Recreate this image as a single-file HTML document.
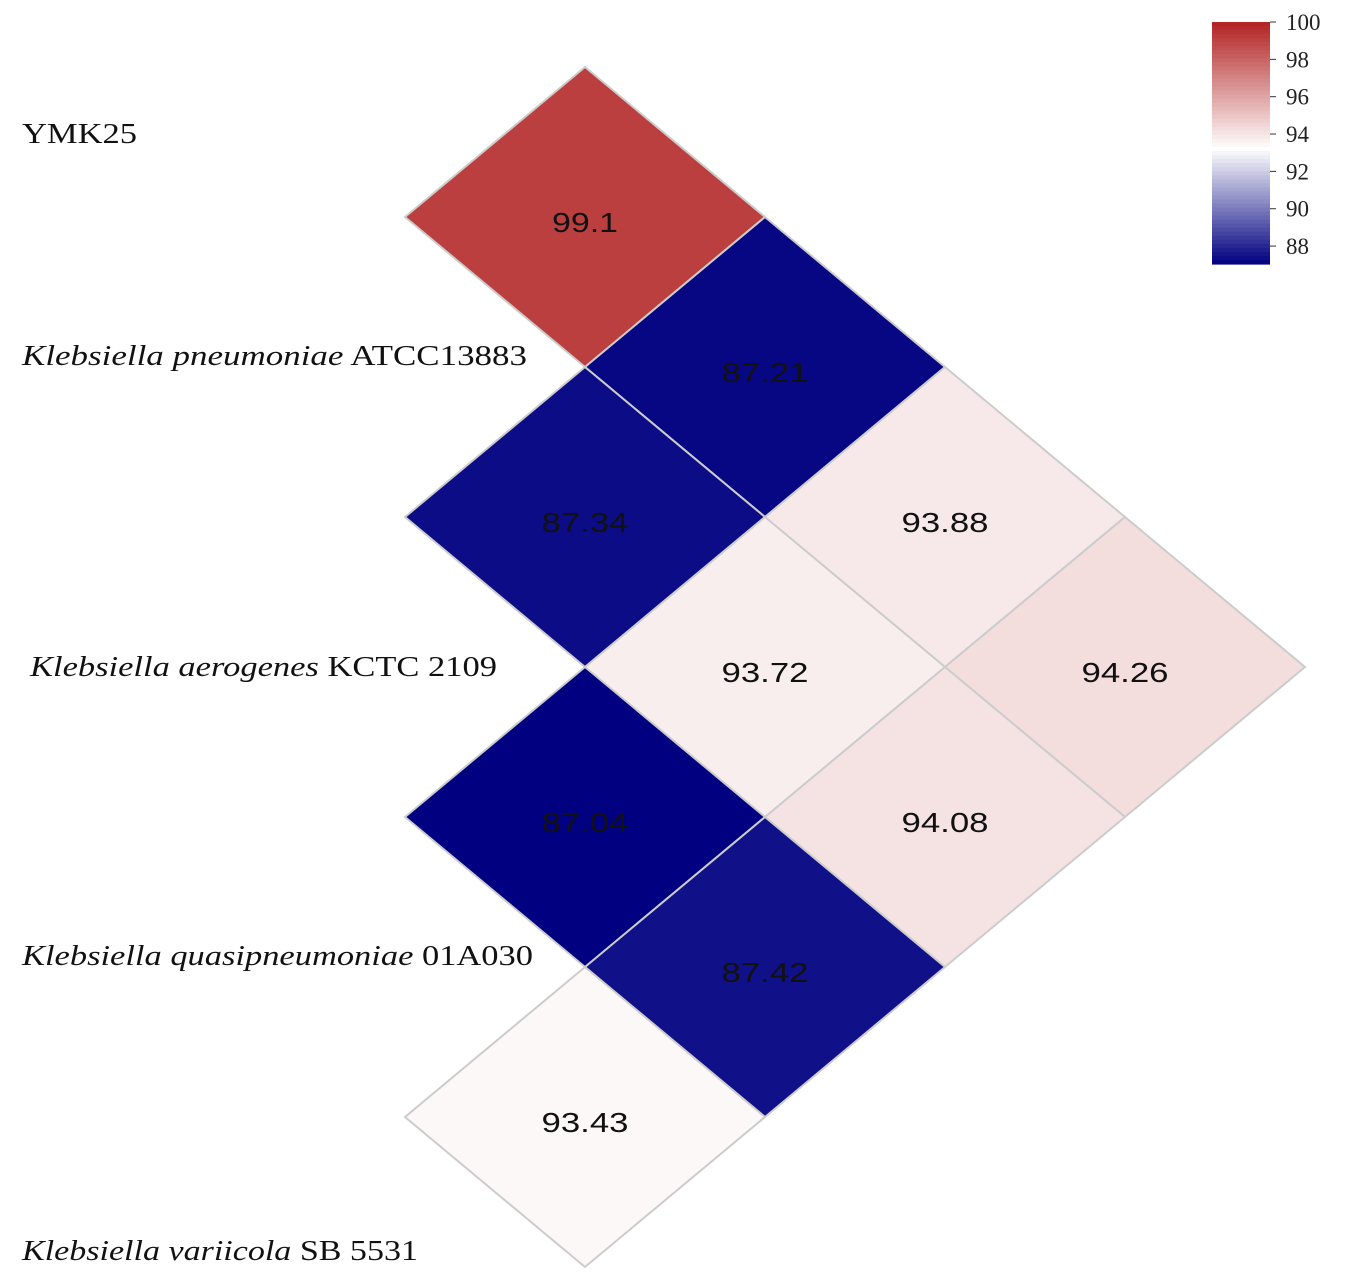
<!DOCTYPE html>
<html><head><meta charset="utf-8">
<style>
html,body{margin:0;padding:0;background:#fff;}
svg{display:block;}
.lab{font-family:"Liberation Serif",serif;font-size:29px;fill:#111;}
.val{font-family:"Liberation Sans",sans-serif;font-size:28px;fill:#111;}
.tick{font-family:"Liberation Serif",serif;font-size:23px;fill:#222;}
</style></head>
<body>
<svg id="chart" width="1348" height="1284" viewBox="0 0 1348 1284" xmlns="http://www.w3.org/2000/svg">
<g id="labels">
<text class="lab" x="22" y="143" textLength="115" lengthAdjust="spacingAndGlyphs">YMK25</text>
<text class="lab" x="22" y="365" textLength="505" lengthAdjust="spacingAndGlyphs"><tspan font-style="italic">Klebsiella pneumoniae</tspan> ATCC13883</text>
<text class="lab" x="30" y="676" textLength="467" lengthAdjust="spacingAndGlyphs"><tspan font-style="italic">Klebsiella aerogenes</tspan> KCTC 2109</text>
<text class="lab" x="22" y="965" textLength="511" lengthAdjust="spacingAndGlyphs"><tspan font-style="italic">Klebsiella quasipneumoniae</tspan> 01A030</text>
<text class="lab" x="22" y="1260" textLength="396" lengthAdjust="spacingAndGlyphs"><tspan font-style="italic">Klebsiella variicola</tspan> SB 5531</text>
</g>
<g id="cells"></g>
<g id="legend"></g>
</svg>
<script>
const pairI = [0,0,1,0,1,0,2,1,2,3];
const pairJ = [1,2,2,3,3,4,3,4,4,4];
const values = [99.1,87.21,87.34,93.88,93.72,94.26,87.04,94.08,87.42,93.43];
const legendTicks = [88,90,92,94,96,98,100];

const NS="http://www.w3.org/2000/svg";
const x0=405, y0=67, hw=180, hh=150;
function cx(i,j){return x0+hw*(j-i);}
function cy(i,j){return y0+hh*(i+j);}
const vmin=87.04, vmid=93.2, vmax=100;
function lerp(a,b,t){return Math.round(a+(b-a)*t);}
function color(v){
  const lo=[0,0,128], mid=[255,255,255], hi=[178,34,34];
  let c;
  if(v<=vmid){const t=(v-vmin)/(vmid-vmin);c=[0,1,2].map(k=>lerp(lo[k],mid[k],Math.max(0,t)));}
  else{const t=(v-vmid)/(vmax-vmid);c=[0,1,2].map(k=>lerp(mid[k],hi[k],Math.min(1,t)));}
  return `rgb(${c[0]},${c[1]},${c[2]})`;
}
const g=document.getElementById('cells');
values.forEach((v,k)=>{
  const i=pairI[k], j=pairJ[k], x=cx(i,j), y=cy(i,j);
  const p=document.createElementNS(NS,'polygon');
  p.setAttribute('points',`${x-hw},${y} ${x},${y-hh} ${x+hw},${y} ${x},${y+hh}`);
  p.setAttribute('fill',color(v));
  p.setAttribute('stroke','#ccc');
  p.setAttribute('stroke-width','2');
  
  
  g.appendChild(p);
  const t=document.createElementNS(NS,'text');
  t.setAttribute('class','val');
  t.setAttribute('x',x);t.setAttribute('y',y+15);
  t.setAttribute('text-anchor','middle');
  const s=String(v);
  t.setAttribute('textLength', s.length>=5 ? 87 : 66);
  t.setAttribute('lengthAdjust','spacingAndGlyphs');
  t.textContent=s;
  
  
  g.appendChild(t);
});
const lg=document.getElementById('legend');
const lx=1212, lw=58, ltop=22, lbot=264;
function ly(v){return ltop+(vmax-v)/(vmax-vmin)*(lbot-ltop);}
const n=60;
for(let s=0;s<n;s++){
  const v1=vmax-(vmax-vmin)*s/n, v2=vmax-(vmax-vmin)*(s+1)/n;
  const r=document.createElementNS(NS,'rect');
  r.setAttribute('x',lx);r.setAttribute('y',ly(v1));
  r.setAttribute('width',lw);r.setAttribute('height',ly(v2)-ly(v1)+0.6);
  r.setAttribute('fill',color((v1+v2)/2));
  
  
  lg.appendChild(r);
}
legendTicks.forEach(v=>{
  const y=ly(v);
  const l=document.createElementNS(NS,'line');
  l.setAttribute('x1',lx+lw);l.setAttribute('x2',lx+lw+6);
  l.setAttribute('y1',y);l.setAttribute('y2',y);
  l.setAttribute('stroke','#333');
  
  
  lg.appendChild(l);
  const t=document.createElementNS(NS,'text');
  t.setAttribute('class','tick');
  t.setAttribute('x',lx+lw+16);t.setAttribute('y',y+8);
  t.textContent=v;
  
  
  lg.appendChild(t);
});
</script>
</body></html>
